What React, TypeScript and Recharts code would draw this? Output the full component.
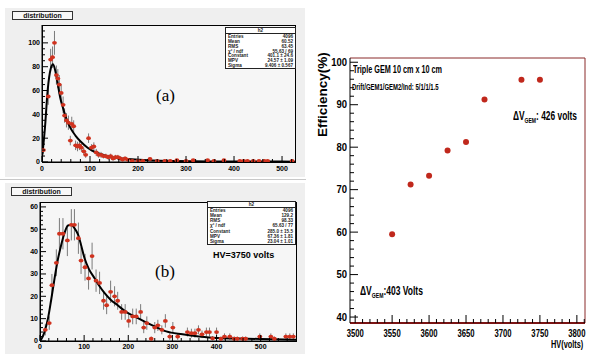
import React from "react";
import {
  ComposedChart,
  ScatterChart,
  Scatter,
  Line,
  XAxis,
  YAxis,
  ErrorBar,
  ReferenceLine,
} from "recharts";

// panel (a): histogram bins
const A_X = [3, 13, 18, 22, 26, 30, 33, 36, 40, 44, 47, 51, 55, 59, 62, 66, 70, 74, 78, 82, 87, 91, 97, 103, 108, 113, 118, 123, 128, 133, 138, 143, 148, 153, 158, 163, 168, 173, 178, 188, 200, 210, 225, 240, 256, 267, 281, 300, 315, 345, 358, 379, 412, 420, 428, 440, 452, 463, 470, 521];
const A_Y = [10, 55, 86, 88, 100, 73, 70, 65, 58, 48, 39, 35, 33, 18, 32, 30, 14, 13, 14, 12, 9, 6, 20, 12, 13, 8, 6, 6, 5, 5, 4, 5, 3, 4, 4, 3, 2, 3, 2, 1, 1, 1, 2.5, 1, 1, 1, 1.5, 1, 1.5, 1.5, 1, 1.5, 1, 1, 1, 1, 1, 1, 1, 1];
const A_ERR = [3, 7, 9, 9, 10, 8, 8, 8, 7, 7, 6, 6, 6, 4, 6, 5, 4, 4, 4, 3, 3, 2.5, 4, 3, 3.5, 3, 2.5, 2.5, 2, 2, 2, 2, 2, 2, 2, 2, 1.5, 1.5, 1.5, 1, 1, 1, 1.5, 1, 1, 1, 1, 1, 1, 1, 1, 1, 1, 1, 1, 1, 1, 1, 1, 1];
const A_FIT_X = [0, 2, 6, 12, 18, 23, 28, 33, 38, 44, 50, 60, 70, 81, 95, 110, 127, 144, 165, 194, 230, 280, 350, 450, 527];
const A_FIT_Y = [4, 11, 28, 61, 78, 82, 76, 65, 54, 45, 37, 28, 22, 17, 12, 8.4, 6, 4, 3, 2, 1.2, 0.8, 0.5, 0.4, 0.3];

// panel (b)
const B_X = [12, 21, 27, 37, 44, 52, 62, 71, 78, 87, 93, 102, 110, 118, 127, 135, 144, 151, 160, 169, 176, 185, 193, 201, 210, 218, 228, 235, 242, 252, 260, 267, 276, 284, 294, 301, 312, 334, 343, 351, 359, 367, 377, 384, 391, 400, 410, 418, 430, 440, 447, 459, 466, 498, 523, 531, 557, 566, 574];
const B_Y = [5, 8, 25, 35, 48, 48, 45, 52, 52, 46, 36, 33, 28, 38, 27, 26, 18, 16, 22, 20, 18, 13, 13, 9, 11, 11, 13, 6, 8, 1, 6, 7, 5, 9, 2, 6, 2, 4, 3.5, 3.5, 5, 3, 4, 4, 1.2, 4, 1, 2, 2, 1, 1, 1, 1, 2, 2, 1, 2, 2, 2];
const B_ERR = [2.5, 3, 5, 6, 7, 7, 7, 7, 7, 7, 6, 6, 5, 6, 5, 5, 4, 4, 5, 4.5, 4, 3.5, 3.5, 3, 3.5, 3.5, 3.5, 2.5, 3, 1, 2.5, 2.5, 2, 3, 1.5, 2.5, 1.5, 2, 2, 2, 2, 1.7, 2, 2, 1, 2, 1, 1.4, 1.4, 1, 1, 1, 1, 1.4, 1.4, 1, 1.4, 1.4, 1.4];
const B_FIT_X = [0, 5, 10, 18, 25, 33, 40, 48, 55, 63, 71, 78, 86, 93, 101, 110, 124, 135, 146, 160, 176, 195, 214, 236, 260, 286, 323, 360, 400, 450, 500, 580];
const B_FIT_Y = [0, 1.5, 4, 10, 18, 28, 36, 43, 48, 51.6, 52, 50.5, 47.7, 43, 37, 32.5, 28, 24.5, 21.5, 18.5, 16, 13, 11, 8.8, 6.5, 4.3, 3, 2, 1.3, 1.1, 0.9, 0.6];

// efficiency vs HV
const HV = [3550, 3575, 3600, 3625, 3650, 3675, 3725, 3750];
const EFF = [59.5, 71.2, 73.3, 79.2, 81.2, 91.2, 95.9, 95.9];

const A_XMAJ = [0, 100, 200, 300, 400, 500];
const A_XMIN = [0, 20, 40, 60, 80, 100, 120, 140, 160, 180, 200, 220, 240, 260, 280, 300, 320, 340, 360, 380, 400, 420, 440, 460, 480, 500, 520];
const A_YMAJ = [0, 20, 40, 60, 80, 100];
const A_YMIN = [0, 5, 10, 15, 20, 25, 30, 35, 40, 45, 50, 55, 60, 65, 70, 75, 80, 85, 90, 95, 100, 105, 110];
const B_XMAJ = [0, 100, 200, 300, 400, 500];
const B_XMIN = [0, 20, 40, 60, 80, 100, 120, 140, 160, 180, 200, 220, 240, 260, 280, 300, 320, 340, 360, 380, 400, 420, 440, 460, 480, 500, 520, 540, 560];
const B_YMAJ = [0, 10, 20, 30, 40, 50, 60];
const B_YMIN = [0, 2, 4, 6, 8, 10, 12, 14, 16, 18, 20, 22, 24, 26, 28, 30, 32, 34, 36, 38, 40, 42, 44, 46, 48, 50, 52, 54, 56, 58, 60];
const E_XMAJ = [3500, 3550, 3600, 3650, 3700, 3750, 3800];
const E_XMIN = [3500, 3510, 3520, 3530, 3540, 3550, 3560, 3570, 3580, 3590, 3600, 3610, 3620, 3630, 3640, 3650, 3660, 3670, 3680, 3690, 3700, 3710, 3720, 3730, 3740, 3750, 3760, 3770, 3780, 3790, 3800, 3810];
const E_YMAJ = [40, 50, 60, 70, 80, 90, 100];
const E_YMIN = [40, 42, 44, 46, 48, 50, 52, 54, 56, 58, 60, 62, 64, 66, 68, 70, 72, 74, 76, 78, 80, 82, 84, 86, 88, 90, 92, 94, 96, 98, 100];

const STATS_A = [
  ["Entries", "4096"],
  ["Mean", "60.52"],
  ["RMS", "63.45"],
  ["\u03c7\u00b2 / ndf", "55.63 / 69"],
  ["Constant", "401.1 \u00b1 24.6"],
  ["MPV", "24.57 \u00b1 1.09"],
  ["Sigma", "9.406 \u00b1 0.567"],
];
const STATS_B = [
  ["Entries", "4096"],
  ["Mean", "129.2"],
  ["RMS", "98.33"],
  ["\u03c7\u00b2 / ndf", "65.63 / 77"],
  ["Constant", "285.0 \u00b1 15.5"],
  ["MPV", "67.36 \u00b1 1.81"],
  ["Sigma", "23.04 \u00b1 1.01"],
];

const zip = (xs: number[], ys: number[], es?: number[]) =>
  xs.map((x, i) => ({ x, y: ys[i], e: es ? es[i] : 0 }));

const SANS = "'Liberation Sans', Arial, sans-serif";

// ticks drawn inward (ROOT style), labels squeezed horizontally by sx
function xTick(majors: number[], len: number, minorLen: number, dy: number, size: number, sx: number) {
  return (p: any) => {
    const v = p.payload.value;
    const big = majors.includes(v);
    return (
      <g>
        <line x1={p.x} x2={p.x} y1={p.y} y2={p.y - (big ? len : minorLen)} stroke="#000" />
        {big && (
          <text transform={`translate(${p.x},${p.y + dy}) scale(${sx},1)`} textAnchor="middle"
            fill="#000" fontFamily={SANS} fontSize={size} fontWeight="bold">
            {v}
          </text>
        )}
      </g>
    );
  };
}

function yTick(majors: number[], len: number, minorLen: number, dx: number, size: number, sx: number) {
  return (p: any) => {
    const v = p.payload.value;
    const big = majors.includes(v);
    return (
      <g>
        <line x1={p.x} x2={p.x + (big ? len : minorLen)} y1={p.y} y2={p.y} stroke="#000" />
        {big && (
          <text transform={`translate(${p.x - dx},${p.y}) scale(${sx},1)`} dy="0.35em" textAnchor="end"
            fill="#000" fontFamily={SANS} fontSize={size} fontWeight="bold">
            {v}
          </text>
        )}
      </g>
    );
  };
}

const marker = (p: any) => <ellipse cx={p.cx} cy={p.cy} rx={2.4} ry={1.9} fill="#d0321e" />;
const dot = (p: any) => <circle cx={p.cx} cy={p.cy} r={3} fill="#c0281c" />;

const abs: React.CSSProperties = { position: "absolute", top: 0, left: 0 };

function StatsBox({ left, top, width, height, rows }: any) {
  return (
    <div
      style={{
        position: "absolute", left, top, width, height, boxSizing: "border-box",
        border: "1px solid #222", background: "#fff", fontFamily: SANS,
        fontSize: 4.6, fontWeight: "bold", lineHeight: "5px", color: "#222",
      }}
    >
      <div style={{ textAlign: "center", borderBottom: "1px solid #222", height: 5 }}>h2</div>
      {rows.map(([k, v]: string[]) => (
        <div key={k} style={{ display: "flex", justifyContent: "space-between", padding: "0 2px", height: (height - 8) / 7 }}>
          <span>{k}</span>
          <span>{v}</span>
        </div>
      ))}
    </div>
  );
}

function Hist({ pts, fit, xmax, ymax, xMaj, xMin, yMaj, yMin, margin, dy }: any) {
  return (
    <ComposedChart width={611} height={356} margin={margin} style={abs}>
      <XAxis type="number" dataKey="x" domain={[0, xmax]} ticks={xMin} interval={0} allowDataOverflow
        height={1} tickSize={0} tickMargin={0} tickLine={false} axisLine={{ stroke: "#000" }}
        tick={xTick(xMaj, 6, 3, dy, 7, 1)} />
      <YAxis type="number" dataKey="y" domain={[0, ymax]} ticks={yMin} interval={0} allowDataOverflow
        width={1} tickSize={0} tickMargin={0} tickLine={false} axisLine={{ stroke: "#000" }}
        tick={yTick(yMaj, 6, 3, 2, 7, 1)} />
      <Scatter data={pts} shape={marker} isAnimationActive={false}>
        <ErrorBar dataKey="e" direction="y" width={0} stroke="#7a7a7a" strokeWidth={1} />
      </Scatter>
      <Line data={fit} dataKey="y" type="monotone" stroke="#000" strokeWidth={2} dot={false} isAnimationActive={false} />
    </ComposedChart>
  );
}

const squeeze = (sx: number): React.CSSProperties => ({ transform: `scaleX(${sx})`, transformOrigin: "left top", whiteSpace: "nowrap" });

export default function App() {
  return (
    <div style={{ position: "absolute", left: 0, top: 0, width: 611, height: 356, background: "#fff", overflow: "hidden" }}>
      {/* pads */}
      <div style={{ position: "absolute", left: 5, top: 8, width: 300, height: 169, background: "#efefef" }} />
      <div style={{ position: "absolute", left: 5, top: 183, width: 300, height: 171, background: "#efefef" }} />
      <div style={{ position: "absolute", left: 0, top: 179, width: 306, height: 1, background: "#c8c8c8" }} />
      <div style={{ position: "absolute", left: 42, top: 25, width: 254, height: 138, boxSizing: "border-box", border: "1px solid #000", background: "#f6f6f6" }} />
      <div style={{ position: "absolute", left: 40, top: 202, width: 257, height: 140, boxSizing: "border-box", border: "1px solid #000", background: "#f6f6f6" }} />

      <Hist pts={zip(A_X, A_Y, A_ERR)} fit={zip(A_FIT_X, A_FIT_Y)} xmax={527} ymax={115}
        xMaj={A_XMAJ} xMin={A_XMIN} yMaj={A_YMAJ} yMin={A_YMIN}
        margin={{ top: 25, left: 41, right: 316, bottom: 193 }} dy={9} />
      <Hist pts={zip(B_X, B_Y, B_ERR)} fit={zip(B_FIT_X, B_FIT_Y)} xmax={580} ymax={62.2}
        xMaj={B_XMAJ} xMin={B_XMIN} yMaj={B_YMAJ} yMin={B_YMIN}
        margin={{ top: 202, left: 39, right: 315, bottom: 14 }} dy={8} />

      <ScatterChart width={611} height={356} margin={{ top: 58, left: 349, right: 26, bottom: 32 }} style={abs}>
        <XAxis type="number" dataKey="x" domain={[3493, 3811]} ticks={E_XMIN} interval={0} allowDataOverflow
          height={1} tickSize={0} tickMargin={0} tickLine={false} axisLine={{ stroke: "#7a1414", strokeWidth: 2 }}
          tick={xTick(E_XMAJ, 8, 4, 14, 10, 0.77)} />
        <YAxis type="number" dataKey="y" domain={[38.6, 101]} ticks={E_YMIN} interval={0} allowDataOverflow
          width={1} tickSize={0} tickMargin={0} tickLine={false} axisLine={{ stroke: "#000" }}
          tick={yTick(E_YMAJ, 8, 4, 3, 10, 0.95)} />
        <ReferenceLine y={101} stroke="#8a2a2a" />
        <ReferenceLine x={3811} stroke="#8a2a2a" />
        <Scatter data={zip(HV, EFF)} shape={dot} isAnimationActive={false} />
      </ScatterChart>

      {/* histogram labels */}
      {[{ l: 12, t: 11 }, { l: 11, t: 187 }].map((b, i) => (
        <div key={i} style={{
          position: "absolute", left: b.l, top: b.t, width: 61, height: 9, boxSizing: "border-box",
          border: "1px solid #333", background: "#f8f8f8", fontFamily: SANS, fontSize: 7,
          fontWeight: "bold", lineHeight: "7px", textAlign: "center", color: "#111",
        }}>distribution</div>
      ))}
      <StatsBox left={225} top={27} width={71} height={42} rows={STATS_A} />
      <StatsBox left={207} top={201} width={89} height={44} rows={STATS_B} />
      <div style={{ position: "absolute", left: 156, top: 86, fontFamily: "'Liberation Serif', serif", fontSize: 17, lineHeight: "20px" }}>(a)</div>
      <div style={{ position: "absolute", left: 155, top: 262, fontFamily: "'Liberation Serif', serif", fontSize: 17, lineHeight: "20px" }}>(b)</div>
      <div style={{ position: "absolute", left: 213, top: 250, fontFamily: SANS, fontSize: 9, fontWeight: "bold", lineHeight: "10px" }}>HV=3750 volts</div>

      {/* efficiency labels */}
      <div style={{ position: "absolute", left: 283, top: 90, width: 80, textAlign: "center", transform: "rotate(-90deg)", fontFamily: SANS, fontSize: 13.5, fontWeight: "bold", lineHeight: "14px", whiteSpace: "nowrap" }}>Efficiency(%)</div>
      <div style={{ position: "absolute", left: 551, top: 338, fontFamily: SANS, fontSize: 10.5, fontWeight: "bold", lineHeight: "12px", ...squeeze(0.7) }}>HV(volts)</div>
      <div style={{ position: "absolute", left: 353, top: 63, fontFamily: SANS, fontSize: 10.5, fontWeight: "bold", lineHeight: "12px", ...squeeze(0.69) }}>Triple GEM 10 cm x 10 cm</div>
      <div style={{ position: "absolute", left: 352, top: 82, fontFamily: SANS, fontSize: 8.5, fontWeight: "bold", lineHeight: "10px", ...squeeze(0.7) }}>Drift/GEM1/GEM2/Ind: 5/1/1/1.5</div>
      <div style={{ position: "absolute", left: 513, top: 109, fontFamily: SANS, fontSize: 12.5, fontWeight: "bold", lineHeight: "14px", ...squeeze(0.67) }}>
        ΔV<sub style={{ fontSize: 7.5, verticalAlign: "-3px" }}>GEM</sub>: 426 volts
      </div>
      <div style={{ position: "absolute", left: 360, top: 284, fontFamily: SANS, fontSize: 12.5, fontWeight: "bold", lineHeight: "14px", ...squeeze(0.68) }}>
        ΔV<sub style={{ fontSize: 7.5, verticalAlign: "-3px" }}>GEM</sub>:403 Volts
      </div>
    </div>
  );
}
